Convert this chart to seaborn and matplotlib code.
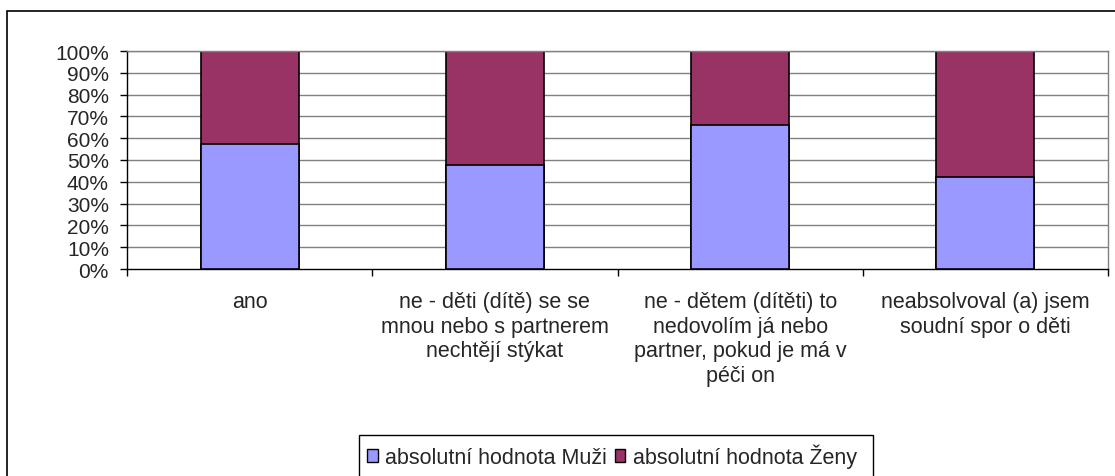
import pandas as pd
import seaborn as sns
import matplotlib.pyplot as plt
from matplotlib.patches import Rectangle, Patch
from matplotlib.ticker import FuncFormatter

# Data (share of Muži, rest is Ženy)
categories = [
    'ano',
    'ne - děti (dítě) se se\nmnou nebo s partnerem\nnechtějí stýkat',
    'ne - dětem (dítěti) to\nnedovolím já nebo\npartner, pokud je má v\npéči on',
    'neabsolvoval (a) jsem\nsoudní spor o děti',
]
muzi = [57.5, 47.7, 65.9, 42.0]
zeny = [42.5, 52.3, 34.1, 58.0]

series_names = ['absolutní hodnota Muži', 'absolutní hodnota Ženy']
colors = ['#9999FF', '#993366']

df = pd.DataFrame({'kategorie': categories, 'muzi': muzi, 'zeny': zeny})
df['celkem'] = df['muzi'] + df['zeny']

sns.set_style('white')
plt.rcParams['font.family'] = ['Liberation Sans', 'DejaVu Sans']

fig = plt.figure(figsize=(11.15, 4.77), dpi=100)
W, H = 1115, 477
ax = fig.add_axes([127 / W, 1 - 270 / H, (1108 - 127) / W, (270 - 52) / H])

# gridlines behind bars
for v in range(10, 101, 10):
    ax.axhline(v, color='#808080', lw=1.0, zorder=0)

# stacked: total (Ženy on top) first, then Muži over it
sns.barplot(data=df, x='kategorie', y='celkem', color=colors[1], width=0.4,
            edgecolor='black', linewidth=1.2, saturation=1, ax=ax, zorder=2)
sns.barplot(data=df, x='kategorie', y='muzi', color=colors[0], width=0.4,
            edgecolor='black', linewidth=1.2, saturation=1, ax=ax, zorder=3)

ax.set_xlim(-0.5, 3.5)
ax.set_ylim(0, 100)
ax.set_yticks(range(0, 101, 10))
ax.yaxis.set_major_formatter(FuncFormatter(lambda v, p: f'{int(v)}%'))
ax.set_xlabel('')
ax.set_ylabel('')

ax.tick_params(axis='y', direction='out', length=5, width=1, color='black',
               labelsize=15, pad=8, left=True)
ax.set_xticks(range(len(categories)))
ax.set_xticklabels(categories, fontsize=15.5, linespacing=1.22, va='top')
ax.tick_params(axis='x', which='major', length=0, pad=16)
ax.set_xticks([-0.5, 0.5, 1.5, 2.5, 3.5], minor=True)
ax.tick_params(axis='x', which='minor', direction='out', length=5, width=1,
               color='black', bottom=True)

for side in ['top', 'right']:
    ax.spines[side].set_color('#808080')
    ax.spines[side].set_linewidth(1.0)
for side in ['left', 'bottom']:
    ax.spines[side].set_color('black')
    ax.spines[side].set_linewidth(1.0)

# outer chart frame (cut by the image edges)
fig.patches.append(Rectangle((7 / W, -0.2), 1.2, 1 - 12 / H + 0.2,
                             transform=fig.transFigure, fill=False,
                             edgecolor='black', lw=1.2))

# legend box (cut at the bottom)
fig.patches.append(Rectangle((359 / W, -0.2), (873 - 359) / W, 1 - 436 / H + 0.2,
                             transform=fig.transFigure, fill=False,
                             edgecolor='black', lw=1.0))
handles = [Patch(facecolor=c, edgecolor='black', lw=1.0) for c in colors]
fig.legend(handles, series_names, loc='center left',
           bbox_to_anchor=(367 / W, 1 - 457 / H), ncol=2, frameon=False,
           fontsize=15.5, handlelength=0.5, handleheight=0.5,
           handletextpad=0.35, columnspacing=0.35, borderpad=0, borderaxespad=0)

fig.savefig('out.png', dpi=100)
